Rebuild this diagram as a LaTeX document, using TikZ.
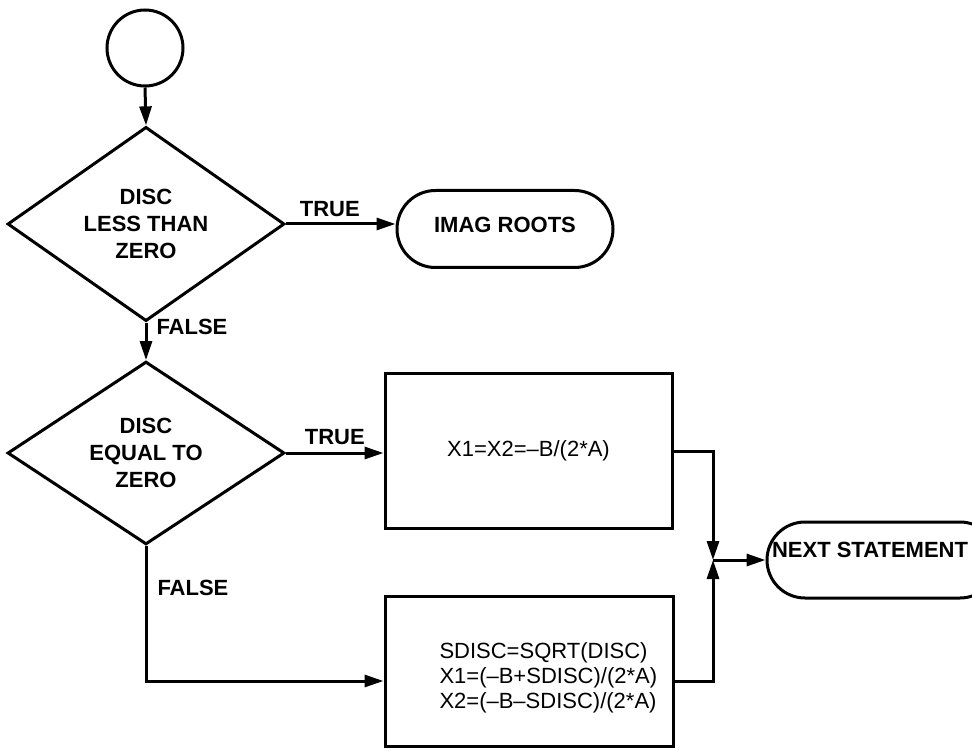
\documentclass[tikz,border=0pt]{standalone}
\usepackage{fontspec}
\setmainfont{Liberation Sans}
\usetikzlibrary{shapes.geometric,shapes.misc,arrows.meta}
\begin{document}
\begin{tikzpicture}[x=1pt,y=-1pt,line width=3pt,line join=miter,
  tip/.style={-{Triangle[length=19pt,width=12pt]}},
  lbl/.style={font=\fontsize{22}{27}\selectfont\bfseries, inner sep=0pt},
  dec/.style={draw, diamond, minimum width=277pt, minimum height=170pt, inner sep=0pt,
    align=center, font=\fontsize{22}{27}\selectfont\bfseries},
  term/.style={draw, rounded rectangle, inner sep=0pt, font=\fontsize{22}{27}\selectfont\bfseries},
  proc/.style={draw, rectangle, inner sep=0pt, font=\fontsize{22}{25}\selectfont}
]
\useasboundingbox (0,0) rectangle (972,751);
\clip (0,0) rectangle (972,751);
\fill[white] (0,0) rectangle (972,751);

\node[draw, circle, minimum size=76pt, inner sep=0pt] (c) at (145,48) {};
\node[dec] (d1) at (146,224) {DISC\\LESS THAN\\ZERO};
\node[dec] (d2) at (146,453) {DISC\\EQUAL TO\\ZERO};
\node[term, minimum width=216pt, minimum height=77pt, text height=15pt, text depth=8pt] (ir) at (505,229) {IMAG ROOTS};
\node[proc, minimum width=287pt, minimum height=155pt] (b1) at (528.5,451) {X1=X2=–B/(2*A)};
\node[proc, minimum width=288pt, minimum height=150pt] (b2) at (529,671) {};
\node[font=\fontsize{22}{25}\selectfont, align=left, anchor=west, inner sep=0pt] (t2) at (438,678)
  {SDISC=SQRT(DISC)\\X1=(–B+SDISC)/(2*A)\\X2=(–B–SDISC)/(2*A)};
\node[term, minimum width=231pt, minimum height=76pt] (ns) at (882.5,560) {};
\node[lbl] (nst) at (870,550) {NEXT STATEMENT};
\coordinate (j) at (713,560);
\coordinate (fy) at (0,681);

\draw[tip] (c.south) -- (d1.north);
\draw[tip] (d1.east) -- (d1.east -| ir.west) node[lbl, pos=0.4, above=6pt] {TRUE};
\draw[tip] (d1.south) -- (d2.north) node[lbl, midway, anchor=west, xshift=9pt, yshift=14pt] {FALSE};
\draw[tip] (d2.east) -- (d2.east -| b1.west) node[lbl, pos=0.5, above=7pt] {TRUE};
\draw[tip] (d2.south) -- (d2.south |- fy) -- (fy -| b2.west);
\node[lbl, anchor=west] at (156,588) {FALSE};
\draw[tip] (b1.east) -| (j);
\draw[tip] (b2.east |- fy) -| (j);
\draw[tip] (j) -- (j -| ns.west);
\end{tikzpicture}
\end{document}
